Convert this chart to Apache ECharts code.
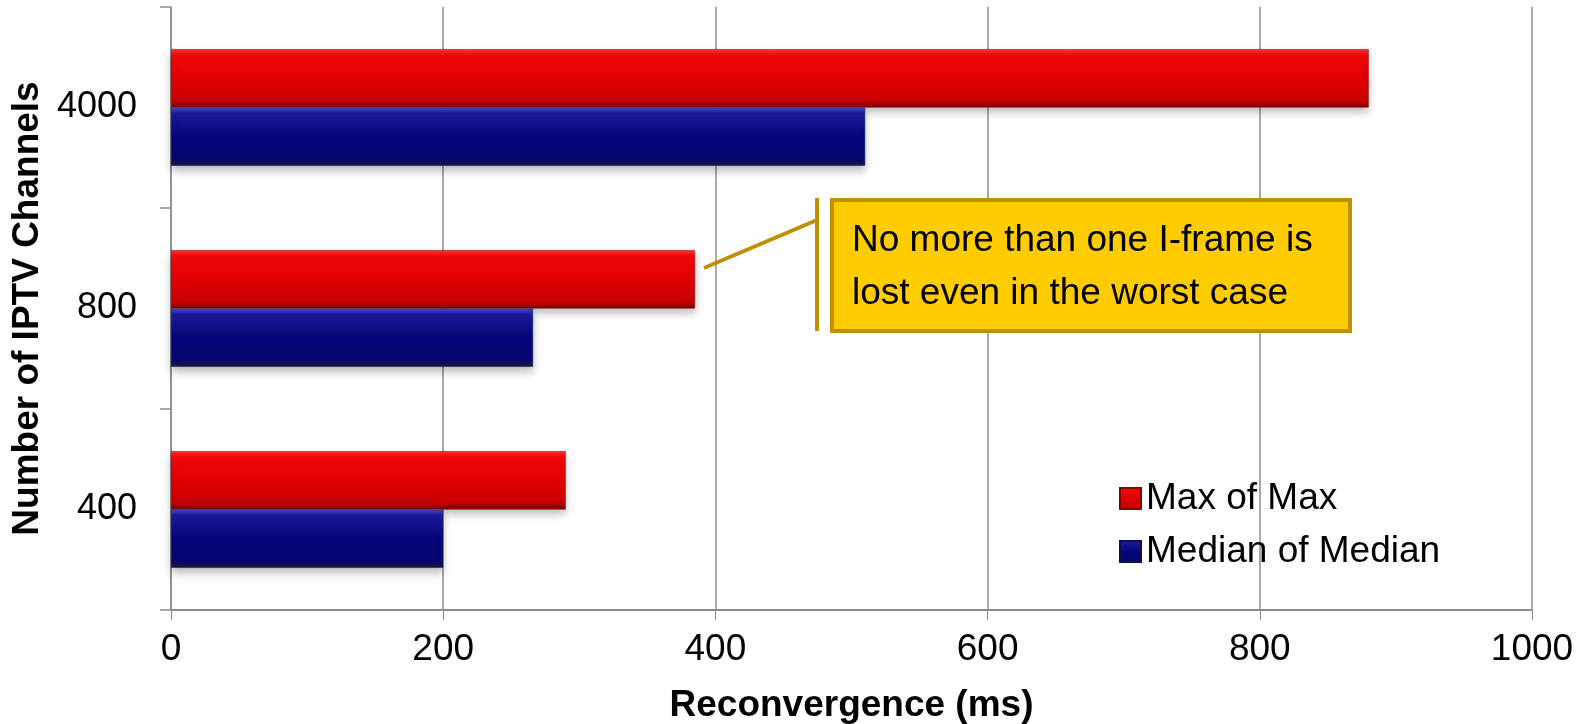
<!DOCTYPE html>
<html><head><meta charset="utf-8">
<script src="https://cdn.jsdelivr.net/npm/echarts@6/dist/echarts.min.js"></script>
<style>html,body{margin:0;padding:0;background:#fff}#c{width:1585px;height:724px}</style>
</head><body><div id="c"></div>
<script>
const categories = ['400', '800', '4000'];
const maxOfMax = [290, 385, 880];
const medianOfMedian = [200, 266, 510];
const seriesNames = ['Max of Max', 'Median of Median'];
const xTicks = [0, 200, 400, 600, 800, 1000];
const annotationLines = ['No more than one I-frame is', 'lost even in the worst case'];

const FONT = "'Liberation Sans', Arial, sans-serif";
const redGrad = new echarts.graphic.LinearGradient(0, 0, 0, 1, [
  {offset: 0, color: '#ff3030'}, {offset: 0.1, color: '#f00a0a'},
  {offset: 0.5, color: '#e00000'}, {offset: 0.88, color: '#c80000'}, {offset: 1, color: '#7a0000'}]);
const blueGrad = new echarts.graphic.LinearGradient(0, 0, 0, 1, [
  {offset: 0, color: '#4a4ad0'}, {offset: 0.1, color: '#1a1a99'},
  {offset: 0.5, color: '#06067a'}, {offset: 0.88, color: '#060670'}, {offset: 1, color: '#1a1a40'}]);

const chart = echarts.init(document.getElementById('c'), null, {renderer: 'canvas'});
chart.setOption({
  animation: false,
  backgroundColor: '#ffffff',
  grid: {left: 171, right: 53, top: 7, bottom: 114, containLabel: false, outerBoundsMode: 'none'},
  legend: {
    orient: 'vertical', left: 1114, top: 474,
    itemWidth: 21, itemHeight: 21, itemGap: 14,
    icon: 'rect',
    textStyle: {fontFamily: FONT, fontSize: 37, color: '#000', lineHeight: 39},
    data: seriesNames
  },
  xAxis: {
    type: 'value', min: xTicks[0], max: xTicks[xTicks.length - 1], interval: 200,
    name: 'Reconvergence (ms)', nameLocation: 'middle', nameGap: 77,
    nameTextStyle: {fontFamily: FONT, fontSize: 37, fontWeight: 'bold', color: '#000'},
    axisLine: {show: true, lineStyle: {color: '#8c8c8c', width: 2}},
    axisTick: {show: true, length: 10, lineStyle: {color: '#8c8c8c', width: 1}},
    axisLabel: {fontFamily: FONT, fontSize: 37, color: '#000', margin: 21,
      formatter: function (v) { return String(v); }},
    splitLine: {show: true, lineStyle: {color: '#8c8c8c', width: 1.5}}
  },
  yAxis: {
    type: 'category', data: categories,
    name: 'Number of IPTV Channels', nameLocation: 'middle', nameGap: 124, nameRotate: 90,
    nameTextStyle: {fontFamily: FONT, fontSize: 37, fontWeight: 'bold', color: '#000'},
    axisLine: {show: true, lineStyle: {color: '#8c8c8c', width: 1.5}},
    axisTick: {show: true, length: 11, alignWithLabel: false, lineStyle: {color: '#8c8c8c', width: 1.5}},
    axisLabel: {fontFamily: FONT, fontSize: 36, color: '#000', margin: 34}
  },
  series: [
    {name: seriesNames[0], type: 'bar', data: maxOfMax, barCategoryGap: '42%', barGap: '0%',
     itemStyle: {color: redGrad, borderColor: '#8a0000', borderWidth: 0.5,
       shadowBlur: 8, shadowOffsetY: 5, shadowColor: 'rgba(0,0,0,0.25)'}},
    {name: seriesNames[1], type: 'bar', data: medianOfMedian, barCategoryGap: '42%', barGap: '0%',
     itemStyle: {color: blueGrad, borderColor: '#101050', borderWidth: 0.5,
       shadowBlur: 8, shadowOffsetY: 5, shadowColor: 'rgba(0,0,0,0.25)'}}
  ],
  graphic: [
    {type: 'line', shape: {x1: 704, y1: 268, x2: 817, y2: 220}, style: {stroke: '#BF9000', lineWidth: 4}, z: 10},
    {type: 'line', shape: {x1: 817, y1: 198, x2: 817, y2: 331}, style: {stroke: '#BF9000', lineWidth: 4}, z: 10},
    {type: 'rect', shape: {x: 832, y: 200, width: 518, height: 131}, style: {fill: '#FFCC00', stroke: '#BF9000', lineWidth: 4}, z: 10},
    {type: 'text', left: 852, top: 214, z: 11,
     style: {text: annotationLines.join('\n'), fontFamily: FONT, fontSize: 37, lineHeight: 53, fill: '#000'}}
  ]
});
</script></body></html>
